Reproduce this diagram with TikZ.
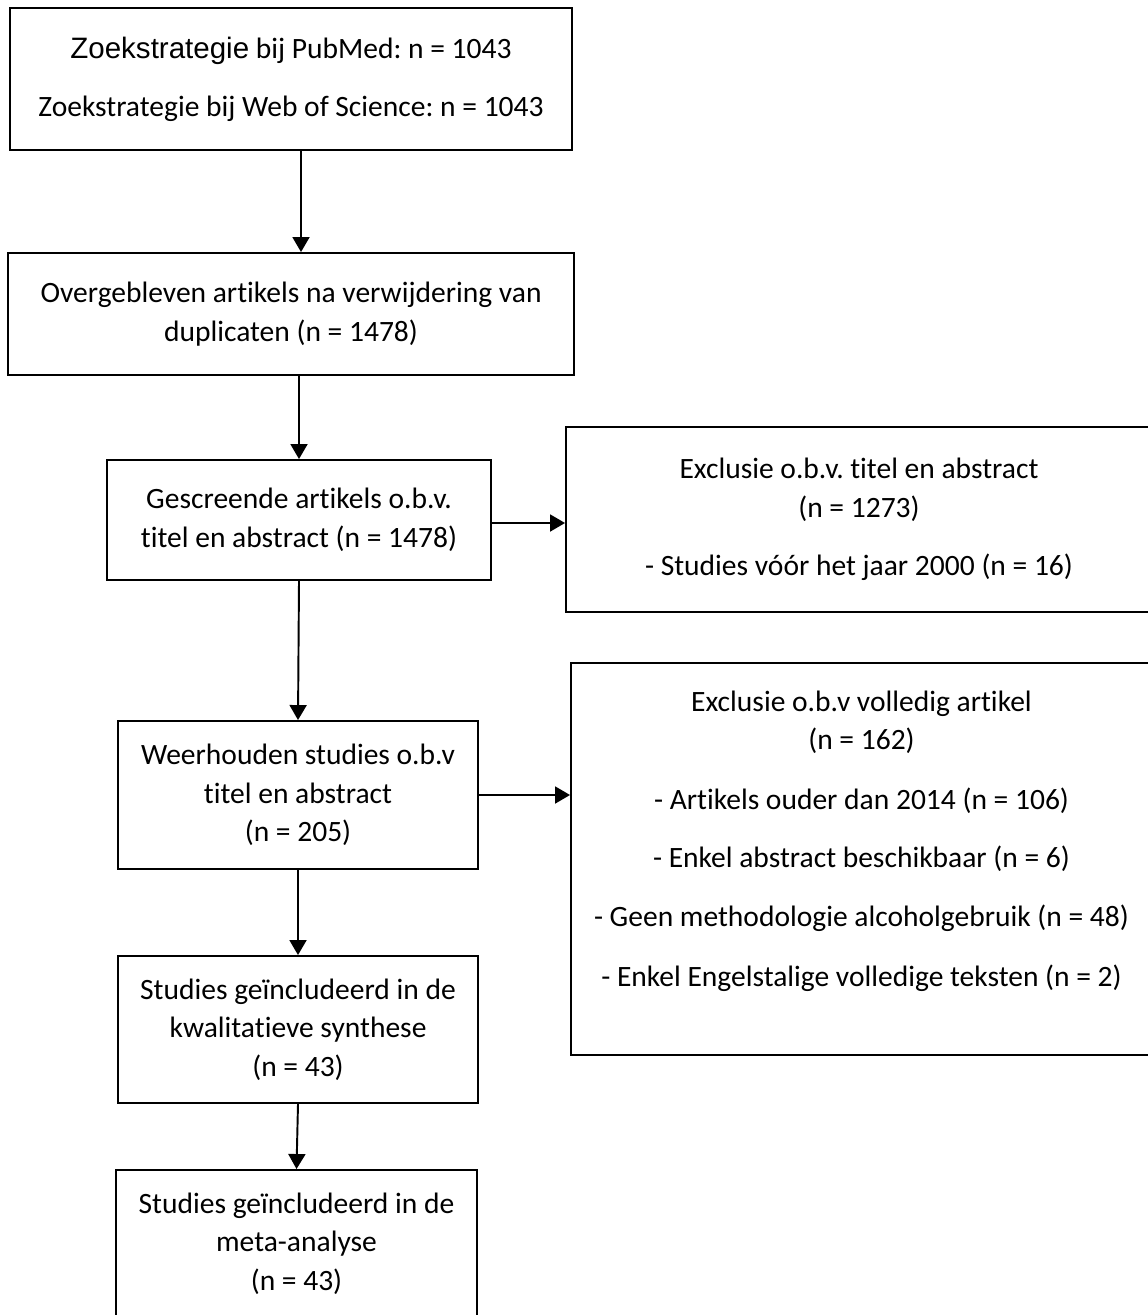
\documentclass[tikz,border=0pt]{standalone}
\usepackage{fontspec}
\setmainfont{Carlito}[Ligatures=NoCommon]
\newfontfamily\arialfont{Liberation Sans}
\usepackage{tikz}
\usetikzlibrary{arrows.meta,calc}
\frenchspacing

\begin{document}
\begin{tikzpicture}[
        >={Triangle[length=0.3cm,width=0.34cm]},
        line width=1.1pt,
        every node/.style={font=\fontsize{16.8pt}{21.9pt}\selectfont},
        flowbox/.style={draw,align=center,inner sep=0pt}
      ]

        % Page ----------------------------------------------------
        \useasboundingbox (0,0) rectangle (22.96,-26.3);

        % Left column ---------------------------------------------
        \node[flowbox,minimum width=11.24cm,minimum height=2.84cm] (search) at (5.82,-1.58)
          {{\arialfont Zoekstrategie} bij PubMed: n = 1043\\[0.39cm]
           Zoekstrategie bij Web of Science: n = 1043};

        \node[flowbox,minimum width=11.32cm,minimum height=2.44cm] (dedup) at (5.82,-6.28)
          {Overgebleven artikels na verwijdering van\\
           duplicaten (n = 1478)};

        \node[flowbox,minimum width=7.68cm,minimum height=2.40cm] (screen) at (5.98,-10.40)
          {Gescreende artikels o.b.v.\\
           titel en abstract (n = 1478)};

        \node[flowbox,minimum width=7.20cm,minimum height=2.96cm] (kept) at (5.96,-15.90)
          {Weerhouden studies o.b.v\\
           titel en abstract\\
           (n = 205)};

        \node[flowbox,minimum width=7.20cm,minimum height=2.94cm] (quali) at (5.96,-20.59)
          {Studies geïncludeerd in de\\
           kwalitatieve synthese\\
           (n = 43)};

        \node[flowbox,minimum width=7.22cm,minimum height=2.94cm] (meta) at (5.93,-24.87)
          {Studies geïncludeerd in de\\
           meta-analyse\\
           (n = 43)};

        % Exclusions (right column) -------------------------------
        \node[flowbox,minimum width=11.72cm,minimum height=3.70cm] (excl1) at (17.18,-10.39)
          {Exclusie o.b.v. titel en abstract\\
           (n = 1273)\\[0.39cm]
           - Studies vóór het jaar 2000 (n = 16)};

        \node[flowbox,minimum width=11.62cm,minimum height=7.84cm] (excl2) at (17.23,-17.18)
          {Exclusie o.b.v volledig artikel\\
           (n = 162)\\[0.42cm]
           - Artikels ouder dan 2014 (n = 106)\\[0.4cm]
           - Enkel abstract beschikbaar (n = 6)\\[0.42cm]
           - Geen methodologie alcoholgebruik (n = 48)\\[0.42cm]
           - Enkel Engelstalige volledige teksten (n = 2)\\[0.05cm]
           \mbox{}};

        % Arrows --------------------------------------------------
        \draw[->] ([xshift=0.2cm]search.south) -- ([xshift=0.2cm]dedup.north);
        \draw[->] (dedup.south -| screen.north) -- (screen.north);
        \draw[->] ([yshift=-0.06cm]screen.east) -- ([yshift=-0.06cm]screen.east -| excl1.west);
        \draw[->] (screen.south) -- (kept.north);
        \draw[->] (kept.east) -- (kept.east -| excl2.west);
        \draw[->] (kept.south) -- (quali.north);
        \draw[->] (quali.south) -- (meta.north);

      \end{tikzpicture}
\end{document}
